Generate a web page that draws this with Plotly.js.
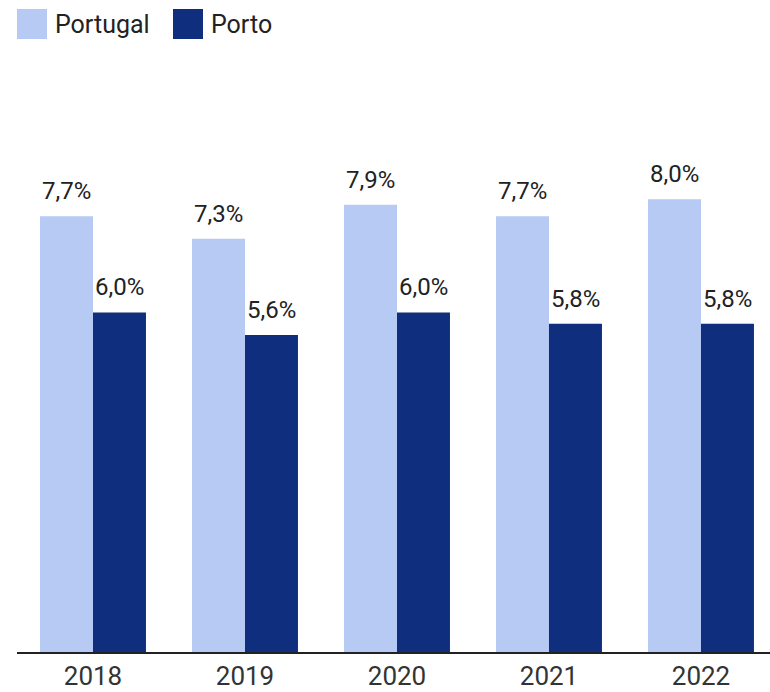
<!DOCTYPE html>
<html>
<head>
<meta charset="utf-8">
<script src="https://cdn.plot.ly/plotly-3.0.1.min.js"></script>
<style>html,body{margin:0;padding:0;background:#fff;}#chart{width:770px;height:692px;}</style>
</head>
<body>
<div id="chart"></div>
<script>
const years = ['2018', '2019', '2020', '2021', '2022'];
const portugal = [7.7, 7.3, 7.9, 7.7, 8.0];
const porto = [6.0, 5.6, 6.0, 5.8, 5.8];
const seriesNames = ['Portugal', 'Porto'];
const colors = ['#b7caf4', '#0f2e7d'];

const fmt = v => v.toFixed(1).replace('.', ',') + '%';

const traces = [
  {type: 'bar', x: years, y: portugal, name: seriesNames[0], marker: {color: colors[0]}, hoverinfo: 'none'},
  {type: 'bar', x: years, y: porto, name: seriesNames[1], marker: {color: colors[1]}, hoverinfo: 'none'}
];

const annotations = [];
[portugal, porto].forEach((arr, s) => {
  arr.forEach((v, i) => {
    annotations.push({
      x: i, y: v, xref: 'x', yref: 'y',
      xshift: s === 0 ? -26.5 : 26.5, yshift: 9,
      yanchor: 'bottom', xanchor: 'center', showarrow: false,
      text: fmt(v), font: {family: 'Roboto, sans-serif', size: 24, color: '#222'}
    });
  });
});

// custom legend
const shapes = [];
const legX = [17, 173];
seriesNames.forEach((n, s) => {
  shapes.push({type: 'rect', xref: 'paper', yref: 'paper', layer: 'above',
    x0: (legX[s] - 17) / 753, x1: (legX[s] + 30 - 17) / 753,
    y0: (652 - 39) / 566, y1: (652 - 9) / 566,
    fillcolor: colors[s], line: {width: 0}});
  annotations.push({xref: 'paper', yref: 'paper', x: (legX[s] + 36 - 17) / 753, y: (652 - 24) / 566,
    xanchor: 'left', yanchor: 'middle', showarrow: false, text: n,
    font: {family: 'Roboto, sans-serif', size: 25, color: '#222'}});
});

const layout = {
  width: 770, height: 692,
  margin: {l: 17, r: 0, t: 86, b: 40},
  paper_bgcolor: '#fff', plot_bgcolor: '#fff',
  separators: ',.',
  showlegend: false,
  barmode: 'group', bargap: 0.303, bargroupgap: 0,
  xaxis: {type: 'category', range: [-0.5, 4.454], showline: true, linecolor: '#222', linewidth: 2,
    ticks: '', tickfont: {family: 'Roboto, sans-serif', size: 26, color: '#333'}, fixedrange: true},
  yaxis: {range: [0, 10], visible: false, showgrid: false, zeroline: false, fixedrange: true},
  annotations: annotations,
  shapes: shapes
};

Plotly.newPlot('chart', traces, layout, {displayModeBar: false, staticPlot: true});
</script>
</body>
</html>
